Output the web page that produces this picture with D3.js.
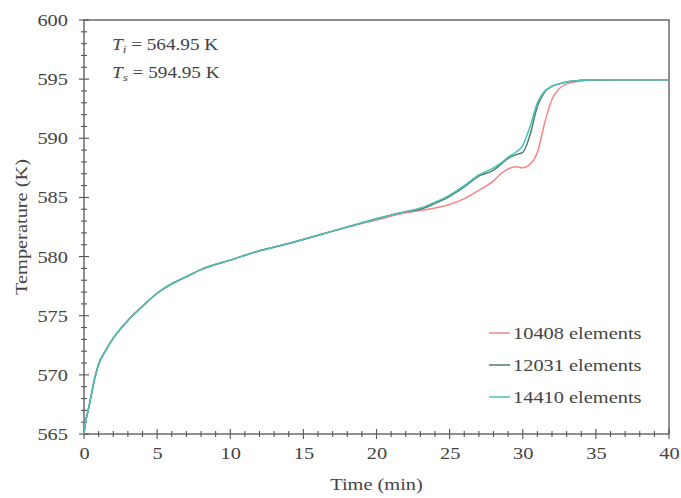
<!DOCTYPE html>
<html>
<head>
<meta charset="utf-8">
<script src="https://cdn.jsdelivr.net/npm/d3@7"></script>
<style>
  body { margin: 0; background: #fff; }
  text { font-family: "Liberation Serif", "DejaVu Serif", serif; fill: #444; }
</style>
</head>
<body>
<div id="wrapper"></div>
<script>
// time grid (min), shared by all three meshes
const times = [0, 0.1, 0.25, 0.5, 0.75, 1, 1.5, 2, 3, 4, 5, 6, 7, 8, 10, 12, 14, 16, 18, 20, 22,
  23, 24, 25, 26, 27, 28, 28.5, 29, 29.5, 30, 30.5, 31, 31.5, 32, 32.5, 33, 34, 35, 37, 40];

const temps10408 = [565, 566.0, 566.8, 568.3, 569.8, 570.9, 572.1, 573.1, 574.6, 575.8, 576.9, 577.7, 578.3, 578.9, 579.7, 580.5, 581.1, 581.8, 582.5, 583.1, 583.7,
  583.9, 584.1, 584.4, 584.9, 585.6, 586.4, 587.0, 587.4, 587.6, 587.5, 587.8, 588.8, 591.3, 593.3, 594.2, 594.6, 594.85, 594.93, 594.95, 594.95];

const temps12031 = [565, 566.0, 566.8, 568.3, 569.8, 570.9, 572.1, 573.1, 574.6, 575.8, 576.9, 577.7, 578.3, 578.9, 579.7, 580.5, 581.1, 581.8, 582.5, 583.2, 583.8,
  584.0, 584.5, 585.1, 585.9, 586.8, 587.3, 587.8, 588.3, 588.6, 588.8, 590.3, 592.7, 593.9, 594.4, 594.6, 594.75, 594.9, 594.95, 594.95, 594.95];

const temps14410 = [565, 566.0, 566.8, 568.3, 569.8, 570.9, 572.1, 573.1, 574.6, 575.8, 576.9, 577.7, 578.3, 578.9, 579.7, 580.5, 581.1, 581.8, 582.5, 583.2, 583.8,
  584.1, 584.6, 585.2, 586.0, 586.9, 587.5, 587.9, 588.4, 588.8, 589.4, 591.0, 593.0, 594.0, 594.4, 594.6, 594.75, 594.9, 594.95, 594.95, 594.95];

const seriesNames = ["10408 elements", "12031 elements", "14410 elements"];
const seriesColors = ["#f4868a", "#4d7f6c", "#4cc0bb"];
const xTicks = [0, 5, 10, 15, 20, 25, 30, 35, 40];
const yTicks = [565, 570, 575, 580, 585, 590, 595, 600];

let dimensions = {
  width: 681, height: 498,
  margin: { top: 20, right: 12, bottom: 64, left: 84 },
};
dimensions.boundedWidth = dimensions.width - dimensions.margin.left - dimensions.margin.right;
dimensions.boundedHeight = dimensions.height - dimensions.margin.top - dimensions.margin.bottom;

// the source figure's lettering is a stretched Times
const stretch = 1.2;
const widen = sel => sel.each(function() {
  const t = d3.select(this);
  const x = +t.attr("x") || 0;
  const y = +t.attr("y") || 0;
  t.attr("x", 0).attr("y", 0)
    .attr("transform", `translate(${x},${y}) scale(${stretch},1)`);
});

const wrapper = d3.select("#wrapper").append("svg")
  .attr("width", dimensions.width)
  .attr("height", dimensions.height);

const bounds = wrapper.append("g")
  .attr("transform", `translate(${dimensions.margin.left},${dimensions.margin.top})`);

const xScale = d3.scaleLinear().domain([0, 40]).range([0, dimensions.boundedWidth]);
const yScale = d3.scaleLinear().domain([565, 600]).range([dimensions.boundedHeight, 0]);

// frame
bounds.append("rect")
  .attr("width", dimensions.boundedWidth)
  .attr("height", dimensions.boundedHeight)
  .attr("fill", "none")
  .attr("stroke", "#555")
  .attr("stroke-width", 1.3);

// minor + major ticks, crossing the axis
const axisColor = "#555";
bounds.append("g").selectAll("line")
  .data(d3.range(0, 41, 1))
  .join("line")
  .attr("x1", d => xScale(d)).attr("x2", d => xScale(d))
  .attr("y1", d => dimensions.boundedHeight - (d % 5 === 0 ? 5 : 3))
  .attr("y2", d => dimensions.boundedHeight + (d % 5 === 0 ? 5 : 3))
  .attr("stroke", axisColor).attr("stroke-width", 1.1);

bounds.append("g").selectAll("line")
  .data(d3.range(565, 601, 1))
  .join("line")
  .attr("y1", d => yScale(d)).attr("y2", d => yScale(d))
  .attr("x1", d => (d % 5 === 0 ? -5 : -3))
  .attr("x2", d => (d % 5 === 0 ? 5 : 3))
  .attr("stroke", axisColor).attr("stroke-width", 1.1);

// tick labels through the axis generators
const xAxis = bounds.append("g")
  .attr("transform", `translate(0,${dimensions.boundedHeight})`)
  .call(d3.axisBottom(xScale).tickValues(xTicks).tickSize(0).tickPadding(13));
const yAxis = bounds.append("g")
  .call(d3.axisLeft(yScale).tickValues(yTicks).tickSize(0).tickPadding(16));
[xAxis, yAxis].forEach(a => {
  a.select(".domain").remove();
  a.selectAll("text")
    .attr("font-family", "Liberation Serif")
    .attr("font-size", 17)
    .attr("fill", "#444")
    .call(widen);
});

// axis titles
bounds.append("text")
  .attr("x", dimensions.boundedWidth / 2)
  .attr("y", dimensions.boundedHeight + 56)
  .attr("text-anchor", "middle")
  .attr("font-size", 17)
  .text("Time (min)")
  .call(widen);

bounds.append("text")
  .attr("transform", `translate(-57,${dimensions.boundedHeight / 2}) rotate(-90) scale(${stretch},1)`)
  .attr("text-anchor", "middle")
  .attr("font-size", 17)
  .text("Temperature (K)");

// lines
const allSeries = [temps10408, temps12031, temps14410];
const lineGenerator = d3.line()
  .x((d, i) => xScale(times[i]))
  .y(d => yScale(d))
  .curve(d3.curveMonotoneX);

allSeries.forEach((s, i) => {
  bounds.append("path")
    .attr("d", lineGenerator(s))
    .attr("fill", "none")
    .attr("stroke", seriesColors[i])
    .attr("stroke-width", 1.5);
});

// legend
const legend = bounds.append("g")
  .attr("transform", `translate(${dimensions.boundedWidth - 180},313)`);
seriesNames.forEach((name, i) => {
  const row = legend.append("g").attr("transform", `translate(0,${i * 32})`);
  row.append("line")
    .attr("x1", 0).attr("x2", 21)
    .attr("stroke", seriesColors[i]).attr("stroke-width", 1.5);
  row.append("text")
    .attr("x", 24).attr("y", 6)
    .attr("font-size", 17)
    .text(name)
    .call(widen);
});

// initial / surface temperature note
const notes = [["i", "564.95"], ["s", "594.95"]];
notes.forEach((n, i) => {
  const t = bounds.append("text")
    .attr("x", 28).attr("y", 30 + i * 28)
    .attr("font-size", 16);
  t.append("tspan").attr("font-style", "italic").text("T");
  t.append("tspan").attr("font-style", "italic").attr("font-size", 11).attr("dy", 3).text(n[0]);
  t.append("tspan").attr("dy", -3).text(` = ${n[1]} K`);
  t.call(widen);
});
</script>
</body>
</html>
